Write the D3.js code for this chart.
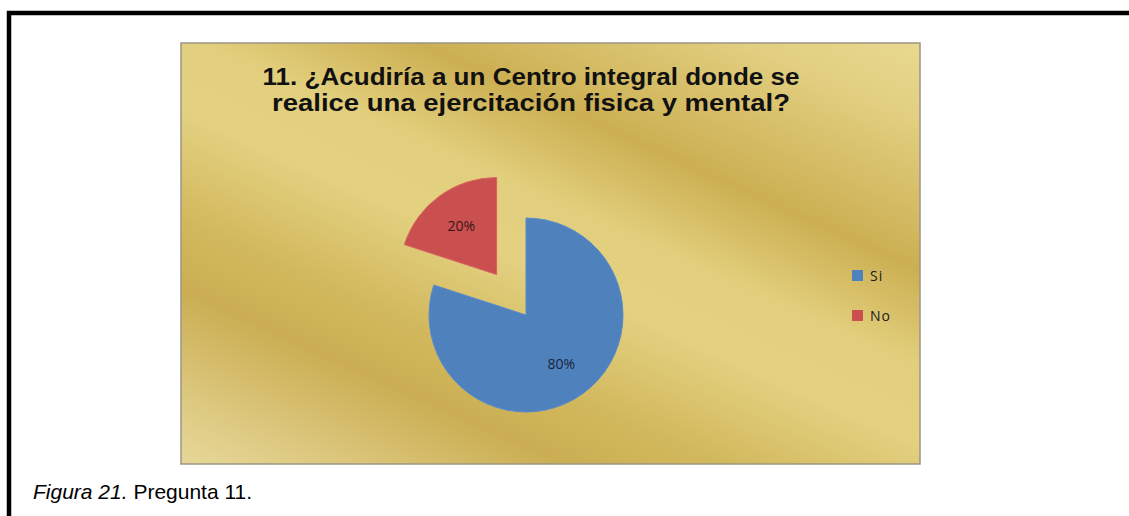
<!DOCTYPE html>
<html>
<head>
<meta charset="utf-8">
<script src="https://cdn.jsdelivr.net/npm/d3@7"></script>
<style>
  body { margin: 0; background: #fff; }
  svg { display: block; }
</style>
</head>
<body>
<div id="chart"></div>
<script>
// data
const categories = ['Si', 'No'];
const values = [80, 20];
const colors = ['#4f81bd', '#c9504f'];
const titleLines = ['11. ¿Acudiría a un Centro integral donde se', 'realice una ejercitación fisica y mental?'];

const width = 1129, height = 516;

const svg = d3.select('#chart').append('svg')
  .attr('width', width)
  .attr('height', height);

const box = {x: 181, y: 43, w: 739, h: 421};

// metallic gold background, bands running down to the right
const defs = svg.append('defs');
const grad = defs.append('linearGradient')
  .attr('id', 'gold')
  .attr('gradientUnits', 'userSpaceOnUse')
  .attr('x1', 691).attr('y1', -59)
  .attr('x2', 409).attr('y2', 565);
[[0, '#e8d98f'], [0.1, '#e2cf81'], [0.3, '#ccaf52'], [0.43, '#e2cf7d'],
 [0.53, '#e3d181'], [0.68, '#d2b85c'], [0.77, '#cbae53'], [0.95, '#e1cf8b'],
 [1, '#e6d798']].forEach(([o, c]) => {
  grad.append('stop').attr('offset', o).attr('stop-color', c);
});

// page frame
svg.append('path')
  .attr('d', `M9,${height} V13 H${width}`)
  .attr('fill', 'none')
  .attr('stroke', '#000')
  .attr('stroke-width', 4.5);

svg.append('rect')
  .attr('x', box.x).attr('y', box.y)
  .attr('width', box.w).attr('height', box.h)
  .attr('fill', 'url(#gold)')
  .attr('stroke', '#9c9585')
  .attr('stroke-width', 1.5);

// title
const titleWidths = [537, 518];
svg.append('g').selectAll('text')
  .data(titleLines).enter()
  .append('text')
  .attr('x', 531)
  .attr('y', (d, i) => 85 + i * 26)
  .attr('text-anchor', 'middle')
  .attr('textLength', (d, i) => titleWidths[i])
  .attr('lengthAdjust', 'spacingAndGlyphs')
  .style('font-family', '"Liberation Sans", Arial, sans-serif')
  .style('font-weight', 'bold')
  .style('font-size', '24px')
  .style('fill', '#111')
  .text(d => d);

// pie
const cx = 526, cy = 315, r = 97, explode = 50;
const pie = d3.pie().sort(null).value(d => d);
const arc = d3.arc().innerRadius(0).outerRadius(r);
const arcs = pie(values);

const g = svg.append('g')
  .attr('transform', `translate(${cx},${cy})`);

const slice = g.selectAll('.slice')
  .data(arcs).enter()
  .append('g')
  .attr('class', 'slice')
  .attr('transform', (d, i) => {
    if (i !== 1) return null;
    const a = (d.startAngle + d.endAngle) / 2;
    return `translate(${Math.sin(a) * explode},${-Math.cos(a) * explode})`;
  });

slice.append('path')
  .attr('d', arc)
  .attr('fill', (d, i) => colors[i])
  .attr('stroke', (d, i) => i === 0 ? '#5b8ccc' : '#d8625f')
  .attr('stroke-width', 1);

const labelArc = d3.arc().innerRadius(r * 0.62).outerRadius(r * 0.62);
slice.append('text')
  .attr('transform', d => `translate(${labelArc.centroid(d)})`)
  .attr('text-anchor', 'middle')
  .attr('dy', '0.35em')
  .style('font-family', '"Open Sans", "Noto Sans", sans-serif')
  .style('font-size', '14px')
  .style('fill', (d, i) => i === 0 ? '#16253d' : '#3a1414')
  .text(d => d.data + '%');

// legend
const legend = svg.append('g')
  .attr('transform', 'translate(852,270)');

const item = legend.selectAll('g')
  .data(categories).enter()
  .append('g')
  .attr('transform', (d, i) => `translate(0,${i * 40})`);

item.append('rect')
  .attr('width', 11).attr('height', 11)
  .attr('fill', (d, i) => colors[i]);

item.append('text')
  .attr('x', 18).attr('y', 11)
  .style('font-family', '"Open Sans", "Noto Sans", sans-serif')
  .style('font-size', '14px')
  .style('letter-spacing', '1px')
  .style('fill', '#1a1a1a')
  .text(d => d);

// caption
const cap = svg.append('text')
  .attr('x', 33).attr('y', 499)
  .style('font-family', '"Liberation Sans", Arial, sans-serif')
  .style('font-size', '21px')
  .style('fill', '#000');
cap.append('tspan').style('font-style', 'italic').text('Figura 21.');
cap.append('tspan').text(' Pregunta 11.');
</script>
</body>
</html>
